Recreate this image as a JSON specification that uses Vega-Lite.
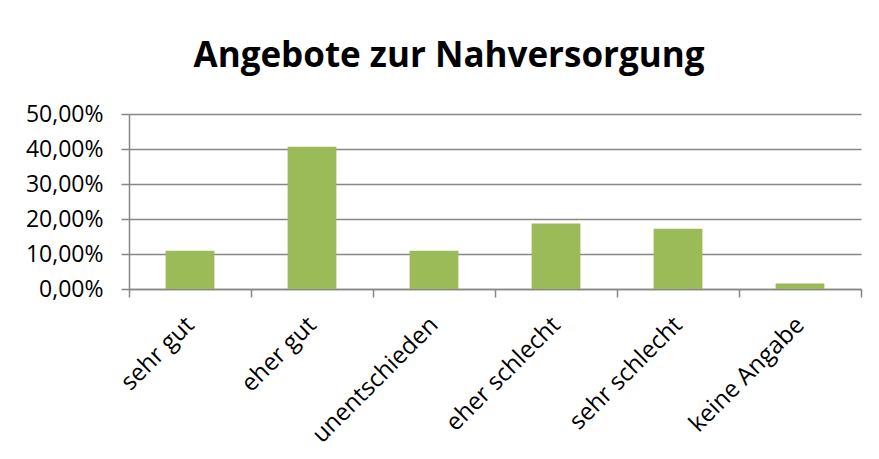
{
  "$schema": "https://vega.github.io/schema/vega-lite/v6.json",
  "autosize": "none",
  "width": 732,
  "height": 175,
  "padding": {"left": 129, "top": 114, "right": 18, "bottom": 170},
  "background": "white",
  "config": {
    "locale": {"number": {"decimal": ",", "thousands": ".", "grouping": [3], "currency": ["", " €"]}},
    "view": {"stroke": null},
    "font": "Open Sans"
  },
  "title": {
    "text": "Angebote zur Nahversorgung",
    "font": "Open Sans",
    "fontSize": 35,
    "fontWeight": "bold",
    "color": "#000000",
    "anchor": "middle",
    "dx": -46,
    "dy": 41,
    "baseline": "alphabetic",
    "offset": 42
  },
  "data": {
    "values": [
      {"kategorie": "sehr gut", "anteil": 0.1094},
      {"kategorie": "eher gut", "anteil": 0.4063},
      {"kategorie": "unentschieden", "anteil": 0.1094},
      {"kategorie": "eher schlecht", "anteil": 0.1875},
      {"kategorie": "sehr schlecht", "anteil": 0.1719},
      {"kategorie": "keine Angabe", "anteil": 0.0156}
    ]
  },
  "mark": {"type": "bar", "color": "#9BBB59", "width": {"band": 0.4}},
  "encoding": {
    "x": {
      "field": "kategorie",
      "type": "nominal",
      "sort": null,
      "scale": {"paddingInner": 0, "paddingOuter": 0},
      "axis": {
        "title": null,
        "labelAngle": -45,
        "labelAlign": "right",
        "labelBaseline": "middle",
        "labelFontSize": 24,
        "labelColor": "#000000",
        "labelPadding": 24,
        "tickBand": "extent",
        "tickSize": 8,
        "tickColor": "#868686",
        "tickWidth": 1.5,
        "domainColor": "#868686",
        "domainWidth": 1.5,
        "grid": false
      }
    },
    "y": {
      "field": "anteil",
      "type": "quantitative",
      "scale": {"domain": [0, 0.5]},
      "axis": {
        "title": null,
        "values": [0, 0.1, 0.2, 0.3, 0.4, 0.5],
        "format": ".2%",
        "labelFontSize": 23,
        "labelColor": "#000000",
        "labelPadding": 18,
        "tickSize": 8,
        "tickColor": "#868686",
        "tickWidth": 1.5,
        "domainColor": "#868686",
        "domainWidth": 1.5,
        "gridColor": "#868686",
        "gridWidth": 1.5
      }
    }
  }
}
